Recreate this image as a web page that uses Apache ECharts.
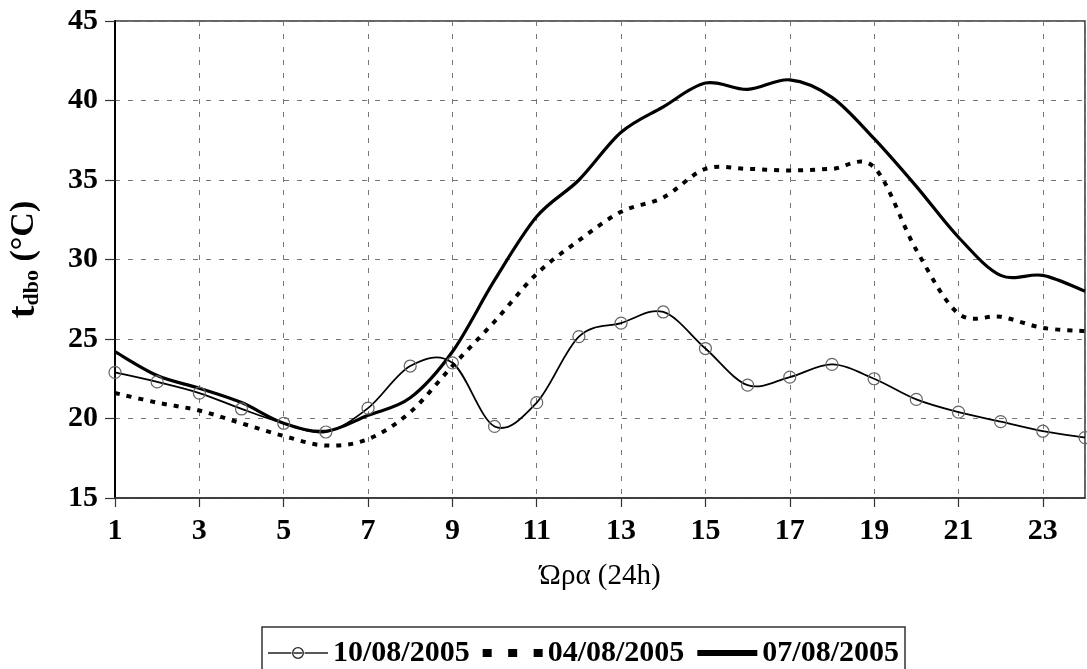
<!DOCTYPE html>
<html>
<head>
<meta charset="utf-8">
<script src="https://cdn.jsdelivr.net/npm/echarts@6/dist/echarts.min.js"></script>
<style>
  html, body { margin: 0; padding: 0; background: #fff; }
  #chart { width: 1087px; height: 669px; }
</style>
</head>
<body>
<div id="chart"></div>
<script>
// Hours of the day (x values)
const hours = [1, 2, 3, 4, 5, 6, 7, 8, 9, 10, 11, 12, 13, 14, 15, 16, 17, 18, 19, 20, 21, 22, 23, 24];

// Outdoor dry-bulb temperature (°C) per hour, for each day
const day10 = [22.9, 22.3, 21.6, 20.6, 19.7, 19.15, 20.65, 23.3, 23.5, 19.5, 21.0, 25.15,
               26.0, 26.7, 24.4, 22.1, 22.6, 23.4, 22.5, 21.2, 20.4, 19.8, 19.2, 18.8];
const day04 = [21.6, 21.0, 20.5, 19.7, 18.9, 18.3, 18.7, 20.4, 23.3, 26.1, 29.1, 31.2,
               33.0, 33.9, 35.7, 35.7, 35.6, 35.7, 35.8, 30.6, 26.6, 26.4, 25.7, 25.5];
const day07 = [24.2, 22.7, 21.9, 21.0, 19.7, 19.2, 20.2, 21.3, 24.2, 28.7, 32.7, 35.0,
               38.0, 39.6, 41.1, 40.7, 41.3, 40.2, 37.6, 34.6, 31.4, 29.0, 29.0, 28.0];

const seriesNames = ['10/08/2005', '04/08/2005', '07/08/2005'];
const yTicks = { min: 15, max: 45, step: 5 };
const xTicks = { min: 1, max: 24, step: 2 };

const serif = '"Liberation Serif", "DejaVu Serif", serif';

// Smoothed curve through the points (Catmull-Rom as cubic Bezier), in pixel space
function curvePath(pts) {
  let d = 'M' + pts[0][0] + ',' + pts[0][1];
  for (let i = 0; i < pts.length - 1; i++) {
    const p0 = pts[Math.max(i - 1, 0)];
    const p1 = pts[i];
    const p2 = pts[i + 1];
    const p3 = pts[Math.min(i + 2, pts.length - 1)];
    const c1x = p1[0] + (p2[0] - p0[0]) / 6, c1y = p1[1] + (p2[1] - p0[1]) / 6;
    const c2x = p2[0] - (p3[0] - p1[0]) / 6, c2y = p2[1] - (p3[1] - p1[1]) / 6;
    d += 'C' + c1x + ',' + c1y + ',' + c2x + ',' + c2y + ',' + p2[0] + ',' + p2[1];
  }
  return d;
}

function curveRenderer(vals, lineStyle, marker) {
  return function (params, api) {
    const i = params.dataIndex;
    const children = [];
    if (i === 0) {
      const pts = hours.map((h, k) => api.coord([h, vals[k]]));
      children.push({
        type: 'path',
        shape: { pathData: curvePath(pts) },
        style: Object.assign({ fill: null, stroke: '#000' }, lineStyle),
        z2: 1
      });
    }
    if (marker) {
      const c = api.coord([api.value(0), api.value(1)]);
      children.push({
        type: 'circle',
        shape: { cx: c[0], cy: c[1], r: 6 },
        style: { fill: null, stroke: '#666', lineWidth: 1.2 },
        z2: 2
      });
    }
    return { type: 'group', children: children };
  };
}

const pairs = vals => hours.map((h, i) => [h, vals[i]]);

// Legend samples: thin line through a hollow circle, three dashes, thick bar
const iconCircleLine = 'path://M0,6.2h23.4v1.6h-23.4z M36.6,6.2h23.4v1.6h-23.4z ' +
  'M30,1a6,6 0 1 0 0.001 0z M30,2.3a4.7,4.7 0 1 1 -0.001 0z M25,6.2h10v1.6h-10z';
const iconDashes = 'path://M0,0h9v8h-9z M25.5,0h9v8h-9z M51,0h9v8h-9z';
const iconSolid = 'path://M0,0h60v6h-60z';

const chart = echarts.init(document.getElementById('chart'), null, { renderer: 'canvas' });

chart.setOption({
  animation: false,
  backgroundColor: '#fff',
  grid: {
    left: 115, right: 2, top: 21, bottom: 171,
    outerBoundsMode: 'none',
    containLabel: false,
    show: true, borderColor: '#333', borderWidth: 1.5
  },
  xAxis: {
    type: 'value',
    min: xTicks.min, max: xTicks.max, interval: xTicks.step,
    name: 'Ώρα (24h)',
    nameLocation: 'middle',
    nameGap: 64,
    nameTextStyle: { fontFamily: serif, fontSize: 29, color: '#000' },
    axisLine: { show: true, lineStyle: { color: '#333', width: 1.5 } },
    axisTick: { show: true, length: 9, lineStyle: { color: '#333', width: 1.2 } },
    axisLabel: {
      margin: 18,
      fontFamily: serif, fontSize: 30, fontWeight: 'bold', color: '#000',
      showMaxLabel: false,
      formatter: v => (v === 24 ? '' : String(v))
    },
    splitLine: { show: true, lineStyle: { color: '#777', width: 1, type: [5, 8] } }
  },
  yAxis: {
    type: 'value',
    min: yTicks.min, max: yTicks.max, interval: yTicks.step,
    name: '{t|t}{s|dbo}{u| (°C)}',
    nameLocation: 'middle',
    nameRotate: 90,
    nameGap: 72,
    nameTextStyle: {
      fontFamily: serif, fontWeight: 'bold', color: '#000',
      rich: {
        t: { fontFamily: serif, fontWeight: 'bold', fontSize: 38, color: '#000' },
        s: { fontFamily: serif, fontWeight: 'bold', fontSize: 22, color: '#000', padding: [16, 0, 0, 0] },
        u: { fontFamily: serif, fontWeight: 'bold', fontSize: 34, color: '#000' }
      }
    },
    axisLine: { show: true, lineStyle: { color: '#000', width: 2 } },
    axisTick: { show: true, length: 10, lineStyle: { color: '#333', width: 1.2 } },
    axisLabel: {
      margin: 17,
      fontFamily: serif, fontSize: 30, fontWeight: 'bold', color: '#000'
    },
    splitLine: { show: true, lineStyle: { color: '#777', width: 1, type: [5, 8] } }
  },
  legend: {
    data: [
      { name: seriesNames[0], icon: iconCircleLine, itemStyle: { color: '#222' } },
      { name: seriesNames[1], icon: iconDashes, itemStyle: { color: '#000' } },
      { name: seriesNames[2], icon: iconSolid, itemStyle: { color: '#000' } }
    ],
    left: 262, top: 627,
    orient: 'horizontal',
    padding: [11, 6, 14, 6],
    itemWidth: 60, itemHeight: 14, itemGap: 13,
    symbolKeepAspect: true,
    borderColor: '#333', borderWidth: 1.5,
    textStyle: { fontFamily: serif, fontSize: 30, fontWeight: 'bold', color: '#000' }
  },
  series: [
    {
      name: seriesNames[0],
      type: 'custom',
      coordinateSystem: 'cartesian2d',
      data: pairs(day10),
      encode: { x: 0, y: 1 },
      itemStyle: { color: '#222' },
      renderItem: curveRenderer(day10, { lineWidth: 1.8 }, true),
      z: 3
    },
    {
      name: seriesNames[1],
      type: 'custom',
      coordinateSystem: 'cartesian2d',
      data: pairs(day04),
      encode: { x: 0, y: 1 },
      itemStyle: { color: '#000' },
      renderItem: curveRenderer(day04, { lineWidth: 4, lineDash: [5, 7], lineCap: 'butt' }, false),
      z: 2
    },
    {
      name: seriesNames[2],
      type: 'custom',
      coordinateSystem: 'cartesian2d',
      data: pairs(day07),
      encode: { x: 0, y: 1 },
      itemStyle: { color: '#000' },
      renderItem: curveRenderer(day07, { lineWidth: 3.2 }, false),
      z: 2
    }
  ]
});
</script>
</body>
</html>
